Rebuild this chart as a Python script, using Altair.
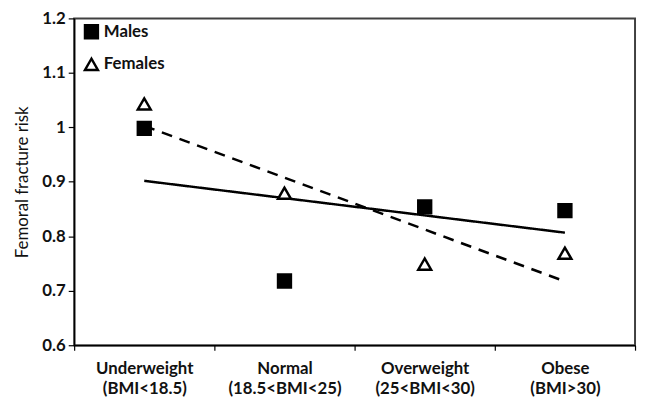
import altair as alt
import pandas as pd

categories = ["Underweight|(BMI<18.5)", "Normal|(18.5<BMI<25)", "Overweight|(25<BMI<30)", "Obese|(BMI>30)"]
males = [0.998, 0.718, 0.854, 0.847]
females = [1.043, 0.879, 0.749, 0.769]
series_names = ["Males", "Females"]
dashes = [[1, 0], [11, 8]]

rows = []
for i, c in enumerate(categories):
    rows.append({"cat": c, "idx": i + 1, "series": "Males", "value": males[i]})
    rows.append({"cat": c, "idx": i + 1, "series": "Females", "value": females[i]})
df = pd.DataFrame(rows)

font = "Lato"
cat_lookup = "[" + ",".join("'" + c + "'" for c in categories) + "][datum.idx - 1]"

x_enc = alt.X("cat:N", sort=categories, title=None,
              scale=alt.Scale(paddingInner=0, paddingOuter=0),
              axis=alt.Axis(labelExpr="split(datum.label, '|')", labelAngle=0,
                            tickBand="extent", tickSize=5, labelPadding=11,
                            labelFontSize=17, labelFont=font, labelFontWeight="bold",
                            labelLineHeight=20, domainColor="black", tickColor="black",
                            domainWidth=1.5, tickWidth=1.2, labelColor="#111"))
y_enc = alt.Y("value:Q", title="Femoral fracture risk",
              scale=alt.Scale(domain=[0.6, 1.2], nice=False, zero=False),
              axis=alt.Axis(values=[0.6, 0.7, 0.8, 0.9, 1.0, 1.1, 1.2], format=".1~f",
                            grid=False, tickSize=6, labelPadding=3,
                            labelFontSize=17, labelFont=font, labelFontWeight="bold",
                            titleFont=font, titleFontSize=17, titleFontWeight="normal",
                            titlePadding=10, domainColor="black", tickColor="black",
                            domainWidth=1.5, tickWidth=1.2, labelColor="#111", titleColor="#111"))

legend_opts = dict(orient="none", legendX=9, legendY=5, padding=0,
                   labelFont=font, labelFontSize=17, labelFontWeight="bold",
                   labelColor="#111", symbolSize=170, symbolStrokeWidth=2.5,
                   symbolStrokeColor="black", rowPadding=9, labelOffset=4)

line_layers = []
for s, d in zip(series_names, dashes):
    line_layers.append(
        alt.Chart(df).transform_filter(
            alt.datum.series == s
        ).transform_regression(
            "idx", "value"
        ).transform_calculate(
            cat=cat_lookup
        ).mark_line(color="black", strokeWidth=2.5, strokeDash=d).encode(
            x=x_enc,
            y=y_enc,
        )
    )

points = alt.Chart(df).mark_point(strokeWidth=2.5, size=170, opacity=1).encode(
    x=x_enc,
    y=y_enc,
    shape=alt.Shape("series:N", title="",
                    scale=alt.Scale(domain=series_names, range=["square", "triangle-up"]),
                    legend=alt.Legend(**legend_opts)),
    fill=alt.Fill("series:N", title="",
                  scale=alt.Scale(domain=series_names, range=["black", "white"]),
                  legend=alt.Legend(**legend_opts)),
    stroke=alt.Stroke("series:N", title="",
                      scale=alt.Scale(domain=series_names, range=["black", "black"]),
                      legend=alt.Legend(**legend_opts)),
)

chart = alt.layer(*line_layers, points).properties(
    width=568, height=331,
    autosize=alt.AutoSizeParams(type="none"),
    padding={"left": 67, "top": 8, "right": 2, "bottom": 60},
).configure_view(stroke="#404040", strokeWidth=2)

chart.save("out.html", embed_options={"renderer": "svg", "actions": False})
